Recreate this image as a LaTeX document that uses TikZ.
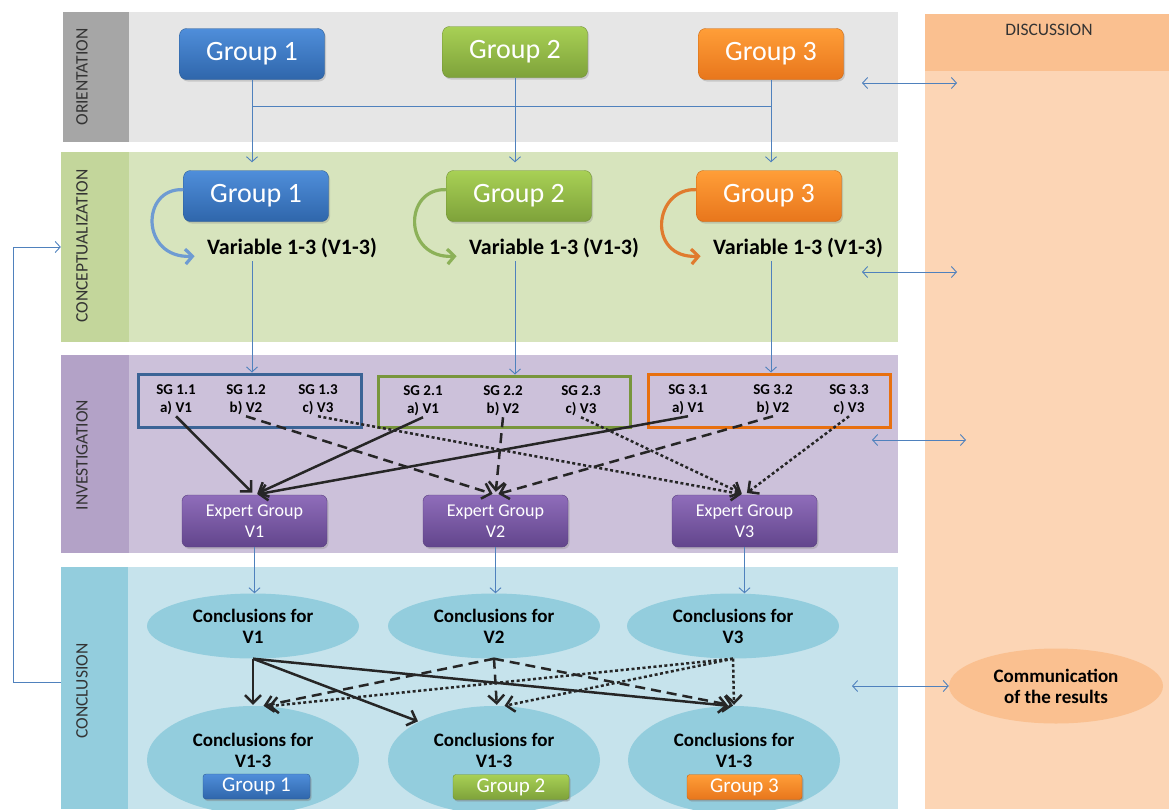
\documentclass[tikz,border=0pt]{standalone}
\usepackage{fontspec}
\setmainfont{Carlito}
\usetikzlibrary{
    arrows.meta,
    shapes.geometric,
    shadows,
    positioning
}
\definecolor{orientgray}{HTML}{A6A6A6}
\definecolor{orientlight}{HTML}{E6E6E6}
\definecolor{conceptgreen}{HTML}{C3D69B}
\definecolor{conceptlight}{HTML}{D7E4BD}
\definecolor{investpurple}{HTML}{B3A2C7}
\definecolor{investlight}{HTML}{CCC1DA}
\definecolor{concludeblue}{HTML}{93CDDD}
\definecolor{concludelight}{HTML}{C6E3EC}
\definecolor{discusshead}{HTML}{FAC090}
\definecolor{discussbody}{HTML}{FCD5B5}
\definecolor{linkblue}{HTML}{4F81BD}
\definecolor{onetop}{HTML}{4F8EDA}
\definecolor{onebot}{HTML}{2F66AB}
\definecolor{oneedge}{HTML}{2B5C94}
\definecolor{twotop}{HTML}{A8D055}
\definecolor{twobot}{HTML}{7EA23A}
\definecolor{twoedge}{HTML}{6F8F34}
\definecolor{threetop}{HTML}{FF9E38}
\definecolor{threebot}{HTML}{E8761C}
\definecolor{threeedge}{HTML}{C9650F}
\definecolor{purtop}{HTML}{8F6DBA}
\definecolor{purbot}{HTML}{62458C}
\definecolor{puredge}{HTML}{59407F}
\definecolor{frameone}{HTML}{3B6496}
\definecolor{frametwo}{HTML}{78963C}
\definecolor{framethree}{HTML}{E8700F}
\definecolor{curlone}{HTML}{6E9BD2}
\definecolor{curltwo}{HTML}{8CB158}
\definecolor{curlthree}{HTML}{E07B2E}

\tikzset{
    wire/.style={draw=linkblue, line width=0.9pt},
    link/.style={wire, ->, >={Straight Barb[length=5pt, width=11pt]}},
    flow/.style={draw=black!85, line width=2.5pt, ->, >={Straight Barb[length=8pt, width=16pt]}, shorten >=3pt},
    flowdash/.style={flow, dash pattern=on 10pt off 6pt},
    flowdot/.style={flow, dash pattern=on 3pt off 2.5pt},
    curl/.style={draw=#1, line width=3.2pt, ->, >={Straight Barb[length=7pt, width=15pt]}, shorten >=9pt},
    grpbox/.style={rounded corners=7pt, minimum width=145pt, minimum height=51pt, inner sep=0pt,
        text=white, font=\fontsize{28}{30}\selectfont,
        drop shadow={shadow xshift=1.5pt, shadow yshift=-2pt, opacity=0.3}},
    grpone/.style={grpbox, top color=onetop, bottom color=onebot, draw=oneedge},
    grptwo/.style={grpbox, top color=twotop, bottom color=twobot, draw=twoedge},
    grpthree/.style={grpbox, top color=threetop, bottom color=threebot, draw=threeedge},
    smallbtn/.style={rounded corners=3pt, minimum height=25pt, inner sep=0pt,
        font=\fontsize{21}{23}\selectfont,
        drop shadow={shadow xshift=1pt, shadow yshift=-1.5pt, opacity=0.3}},
    expert/.style={rounded corners=6pt, minimum width=145pt, minimum height=52pt, inner sep=0pt,
        align=center, text=white, font=\fontsize{18}{21}\selectfont,
        top color=purtop, bottom color=purbot, draw=puredge,
        drop shadow={shadow xshift=1.5pt, shadow yshift=-2pt, opacity=0.3}},
    vartext/.style={font=\bfseries\fontsize{22}{24}\selectfont},
    sgframe/.style={draw=#1, line width=3pt, inner sep=0pt},
    sgtext/.style={align=center, inner sep=1pt, font=\bfseries\fontsize{15}{18}\selectfont},
    cellipse/.style={ellipse, fill=concludeblue, minimum width=212pt, minimum height=65pt, inner sep=0pt,
        align=center, font=\bfseries\fontsize{19}{21}\selectfont},
    ctext/.style={align=center, inner sep=0pt, font=\bfseries\fontsize{19}{21}\selectfont},
    labcol/.style={inner sep=0pt},
    lab/.style={text=black!80, font=\fontsize{17.5}{20}\selectfont}
}

\begin{document}
\begin{tikzpicture}[x=1pt, y=-1pt]
\useasboundingbox (0,0) rectangle (1169,809);
\clip (0,0) rectangle (1169,809);

\fill[orientlight] (63,12) rectangle (898,142);
\fill[conceptlight] (61,152) rectangle (898,342);
\fill[investlight] (61,355) rectangle (898,553);
\fill[concludelight] (61,567) rectangle (898,809);
\fill[discussbody] (925,14) rectangle (1169,809);
\fill[discusshead] (925,14) rectangle (1169,71);

\node[labcol, fill=orientgray, minimum width=66pt, minimum height=130pt] (orientcol) at (96,77) {};
\node[labcol, fill=conceptgreen, minimum width=68pt, minimum height=190pt] (conceptcol) at (95,247) {};
\node[labcol, fill=investpurple, minimum width=68pt, minimum height=198pt] (investcol) at (95,454) {};
\node[labcol, fill=concludeblue, minimum width=67pt, minimum height=242pt] (concludecol) at (94.5,688) {};

\node[lab, rotate=90] (orienttitle) at (82,77) {ORIENTATION};
\node[lab, rotate=90] (concepttitle) at (82,246) {CONCEPTUALIZATION};
\node[lab, rotate=90] (investtitle) at (82,455) {INVESTIGATION};
\node[lab, rotate=90] (concludetitle) at (82,691) {CONCLUSION};
\node[lab] (discusstitle) at (1049,30) {DISCUSSION};

% orientation
\node[grpone] (og1) at (252,54) {Group 1};
\node[grptwo] (og2) at (515,52) {Group 2};
\node[grpthree] (og3) at (771,54) {Group 3};

% conceptualization
\node[grpone] (cg1) at (256,196) {Group 1};
\node[grptwo] (cg2) at (519,196) {Group 2};
\node[grpthree] (cg3) at (769,196) {Group 3};

\node[vartext] (var1) at (292,248) {Variable 1-3 (V1-3)};
\node[vartext] (var2) at (554,248) {Variable 1-3 (V1-3)};
\node[vartext] (var3) at (798,248) {Variable 1-3 (V1-3)};

\path (og1.south) ++(0,27) coordinate (hub1);
\draw[wire] (hub1) -- (hub1 -| og3.south);
\draw[link, shorten >=8pt] (og1.south) -- (og1.south |- cg1.north);
\draw[link, shorten >=8pt] (og2.south) -- (og2.south |- cg2.north);
\draw[link, shorten >=8pt] (og3.south) -- (og3.south |- cg3.north);

\draw[curl=curlone] (cg1.175) .. controls +(-43,-2) and +(-63,3) .. (var1.185);
\draw[curl=curltwo] (cg2.175) .. controls +(-43,-2) and +(-63,3) .. (var2.185);
\draw[curl=curlthree] (cg3.175) .. controls +(-43,-2) and +(-63,3) .. (var3.185);

% investigation
\node[sgframe=frameone, minimum width=223pt, minimum height=53pt] (sgb1) at (249.5,400.5) {};
\node[sgframe=frametwo, minimum width=252pt, minimum height=51pt] (sgb2) at (504,401.5) {};
\node[sgframe=framethree, minimum width=242pt, minimum height=53pt] (sgb3) at (769,400.5) {};

\node[sgtext] (sg11) at (176,400) {SG 1.1\\a) V1};
\node[sgtext] (sg12) at (246,400) {SG 1.2\\b) V2};
\node[sgtext] (sg13) at (318,400) {SG 1.3\\c) V3};
\node[sgtext] (sg21) at (423,401) {SG 2.1\\a) V1};
\node[sgtext] (sg22) at (503,401) {SG 2.2\\b) V2};
\node[sgtext] (sg23) at (581,401) {SG 2.3\\c) V3};
\node[sgtext] (sg31) at (688,400) {SG 3.1\\a) V1};
\node[sgtext] (sg32) at (773,400) {SG 3.2\\b) V2};
\node[sgtext] (sg33) at (849,400) {SG 3.3\\c) V3};

\draw[link] (var1.south -| og1.south) -- (sgb1.north -| og1.south);
\draw[link] (var2.south -| og2.south) -- (sgb2.north -| og2.south);
\draw[link] (var3.south -| og3.south) -- (sgb3.north -| og3.south);

\node[expert] (ev1) at (254.5,521) {Expert Group\\V1};
\node[expert] (ev2) at (495.5,521) {Expert Group\\V2};
\node[expert] (ev3) at (744.5,521) {Expert Group\\V3};

\draw[flow] (sg11.south) -- (ev1.north);
\draw[flow] (sg21.south) -- (ev1.north);
\draw[flow] (sg31.south) -- (ev1.north);

\draw[flowdash] (sg12.south) -- (ev2.north);
\draw[flowdash] (sg22.south) -- (ev2.north);
\draw[flowdash] (sg32.south) -- (ev2.north);

\draw[flowdot] (sg13.south) -- (ev3.north);
\draw[flowdot] (sg23.south) -- (ev3.north);
\draw[flowdot] (sg33.south) -- (ev3.north);

% conclusion
\node[cellipse] (cv1) at (253,626) {Conclusions for\\V1};
\node[cellipse] (cv2) at (494,626) {Conclusions for\\V2};
\node[cellipse] (cv3) at (733,626) {Conclusions for\\V3};

\node[cellipse, minimum height=108pt] (ca1) at (253,760) {};
\node[cellipse, minimum height=108pt] (ca2) at (494,760) {};
\node[cellipse, minimum height=108pt] (ca3) at (734,760) {};
\node[ctext] (ct1) at (253,750) {Conclusions for\\V1-3};
\node[ctext] (ct2) at (494,750) {Conclusions for\\V1-3};
\node[ctext] (ct3) at (734,750) {Conclusions for\\V1-3};
\node[grpone, smallbtn, minimum width=107pt] (sb1) at (256.5,786.5) {Group 1};
\node[grptwo, smallbtn, minimum width=116pt] (sb2) at (511,787) {Group 2};
\node[grpthree, smallbtn, minimum width=115pt] (sb3) at (744.5,787) {Group 3};

\draw[link] (ev1.south) -- (ev1.south |- cv1.north);
\draw[link] (ev2.south) -- (ev2.south |- cv2.north);
\draw[link] (ev3.south) -- (ev3.south |- cv3.north);

\draw[flow, shorten >=1pt] (cv1.south) -- (ca1.north);
\draw[flow, shorten >=1pt] (cv1.south) -- (ca2.north west);
\draw[flow, shorten >=1pt] (cv1.south) -- (ca3.95);

\draw[flowdash, shorten >=1pt] (cv2.south) -- (ca1.80);
\draw[flowdash, shorten >=1pt] (cv2.south) -- (ca2.87);
\draw[flowdash, shorten >=1pt] (cv2.south) -- (ca3.north);

\draw[flowdot, shorten >=1pt] (cv3.south) -- (ca1.75);
\draw[flowdot, shorten >=1pt] (cv3.south) -- (ca2.80);
\draw[flowdot, shorten >=1pt] (cv3.south) -- (ca3.north);

% discussion
\node[cellipse, fill=discusshead, minimum width=214pt, minimum height=75pt] (comm) at (1056,686) {Communication\\of the results};

\coordinate (orientout) at (862,83);
\coordinate (orientin) at (957,83);
\coordinate (conceptout) at (862,272);
\coordinate (conceptin) at (957,272);
\coordinate (investout) at (872,440);
\coordinate (investin) at (966,440);
\coordinate (concludeout) at (852,686);

\draw[link, <->] (orientout) -- (orientin);
\draw[link, <->] (conceptout) -- (conceptin);
\draw[link, <->] (investout) -- (investin);
\draw[link, <->] (concludeout) -- (comm.west);

\draw[link] ([yshift=6pt]concludecol.west) -- ++(-47,0) |- (conceptcol.west);
\end{tikzpicture}
\end{document}
